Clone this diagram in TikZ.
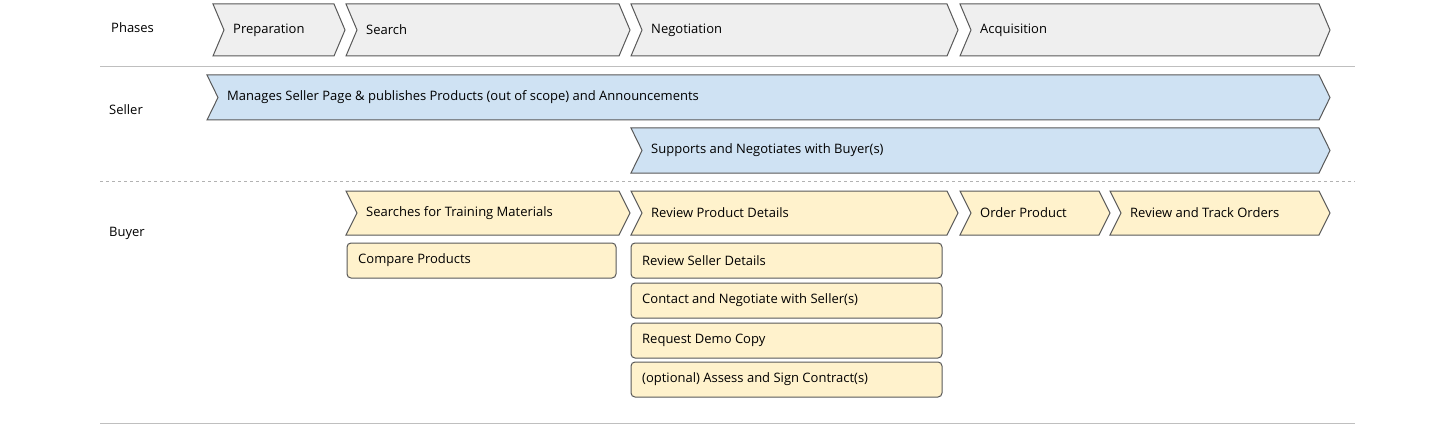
\documentclass[tikz,border=0pt]{standalone}
\usepackage{fontspec}
\setmainfont{Open Sans}
\definecolor{gfill}{HTML}{EFEFEF}
\definecolor{bfill}{HTML}{CFE2F3}
\definecolor{yfill}{HTML}{FFF2CC}
\definecolor{edge}{HTML}{595959}
\newcommand\mychev[7]{% name, x1, x2, yt, yb, fill, text
  \path[draw=edge,line width=1pt,fill=#6] (#2,#4) -- (#3-11,#4) -- (#3,{(#4+#5)/2}) -- (#3-11,#5) -- (#2,#5) -- (#2+11,{(#4+#5)/2}) -- cycle;
  \node[lbl] (#1) at (#2+20,{(#4+#5)/2}) {#7};}
\newcommand\mybox[6]{% name x1 x2 yt yb text
  \path[draw=edge,line width=1pt,fill=yfill,rounded corners=4pt] (#2,#4) rectangle (#3,#5);
  \node[lbl] (#1) at (#2+11,{(#4+#5)/2}) {#6};}
\begin{document}
\begin{tikzpicture}[x=1pt,y=-1pt,lbl/.style={anchor=west,inner sep=0pt,font=\fontsize{13}{15}\selectfont,text=black}]
\useasboundingbox[fill=white] (0,0) rectangle (1440,433);
\node[lbl] (lp) at (111,28) {Phases};
\node[lbl] (ls) at (109,110) {Seller};
\node[lbl] (lb) at (109,233) {Buyer};
\mychev{p1}{213}{345}{4}{56}{gfill}{Preparation}
\mychev{p2}{346}{630}{4}{56}{gfill}{Search}
\mychev{p3}{631}{958}{4}{56}{gfill}{Negotiation}
\mychev{p4}{960}{1330}{4}{56}{gfill}{Acquisition}
\draw[gray!50,line width=1pt] (100,67) -- (1355,67);
\mychev{s1}{207}{1330}{75}{120}{bfill}{Manages Seller Page \& publishes Products (out of scope) and Announcements}
\mychev{s2}{631}{1330}{128}{173}{bfill}{Supports and Negotiates with Buyer(s)}
\draw[gray!60,dashed,line width=0.8pt] (100,181) -- (1355,181);
\mychev{b1}{346}{630}{191}{235}{yfill}{Searches for Training Materials}
\mychev{b2}{631}{958}{191}{235}{yfill}{Review Product Details}
\mychev{b3}{960}{1110}{191}{235}{yfill}{Order Product}
\mychev{b4}{1110}{1330}{191}{235}{yfill}{Review and Track Orders}
\mybox{c1}{347}{616}{243}{278}{Compare Products}
\mybox{n1}{631}{942}{243}{278}{Review Seller Details}
\mybox{n2}{631}{942}{283}{318}{Contact and Negotiate with Seller(s)}
\mybox{n3}{631}{942}{323}{358}{Request Demo Copy}
\mybox{n4}{631}{942}{362}{397}{(optional) Assess and Sign Contract(s)}
\draw[gray!50,line width=1pt] (100,423) -- (1355,423);
\end{tikzpicture}
\end{document}
